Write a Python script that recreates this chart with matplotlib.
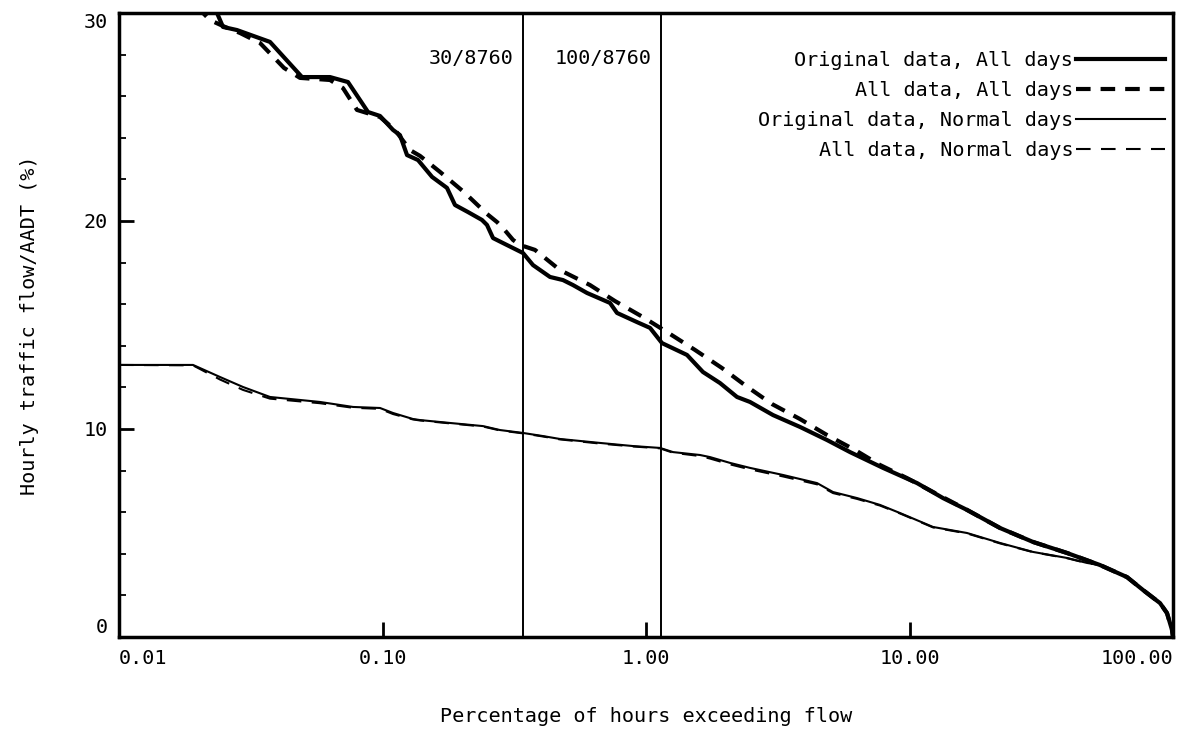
import matplotlib
matplotlib.use("Agg")
import matplotlib.pyplot as plt

plt.rcParams['font.family'] = ['DejaVu Sans Mono']

# exceedance curves: percentage of hours vs hourly flow as % of AADT
orig_all_x = [0.0225, 0.02355, 0.02481, 0.02804, 0.03741, 0.04949, 0.06321, 0.07396, 0.0881,
              0.09784, 0.1096, 0.1165, 0.1239, 0.1364, 0.1542, 0.1757, 0.1884, 0.2111, 0.2385,
              0.2492, 0.2627, 0.2866, 0.3414, 0.3726, 0.4322, 0.4842, 0.5284, 0.5972, 0.7302,
              0.7762, 0.9242, 1.036, 1.150, 1.431, 1.645, 1.909, 2.215, 2.481, 3.034, 3.840,
              4.863, 5.946, 7.933, 10.68, 13.40, 16.53, 22.06, 29.42, 39.60, 52.84, 66.90,
              76.93, 89.28, 94.89, 99.13, 100.0]
orig_all_y = [30.4, 30.0, 29.33, 29.18, 28.61, 26.92, 26.92, 26.68, 25.24,
              25.05, 24.38, 24.13, 23.17, 22.93, 22.12, 21.59, 20.77, 20.43, 20.05,
              19.81, 19.18, 18.94, 18.46, 17.88, 17.31, 17.16, 16.92, 16.54, 16.06,
              15.58, 15.14, 14.86, 14.13, 13.56, 12.74, 12.21, 11.54, 11.30, 10.67, 10.10,
              9.47, 8.89, 8.13, 7.40, 6.68, 6.11, 5.24, 4.57, 4.04, 3.46, 2.88,
              2.26, 1.63, 1.15, 0.34, 0.0]

all_all_x = [0.0200, 0.02084, 0.02215, 0.02525, 0.02878, 0.03428, 0.04228, 0.04863, 0.06321,
             0.07081, 0.08001, 0.09784, 0.1115, 0.1272, 0.1388, 0.1653, 0.2038, 0.2492,
             0.2720, 0.2866, 0.3129, 0.3325, 0.3791, 0.4717, 0.6131, 0.7629, 0.9741, 1.233,
             1.535, 1.943, 2.396, 3.007, 3.840, 4.863, 6.212, 7.727, 9.783, 12.50, 16.53,
             22.06, 29.42, 39.60, 52.84, 66.90, 76.93, 89.28, 94.89, 99.13, 100.0]
all_all_y = [30.4, 30.0, 29.66, 29.33, 29.04, 28.56, 27.36, 26.88, 26.78,
             26.39, 25.34, 25.0, 24.38, 23.41, 23.13, 22.36, 21.39, 20.34,
             19.95, 19.66, 19.09, 18.85, 18.61, 17.64, 16.92, 16.15, 15.38, 14.57,
             13.80, 12.93, 12.07, 11.20, 10.48, 9.71, 8.99, 8.27, 7.64, 6.92, 6.11,
             5.24, 4.57, 4.04, 3.46, 2.88, 2.26, 1.63, 1.15, 0.34, 0.0]

orig_normal_x = [0.01, 0.01909, 0.02417, 0.02955, 0.03741, 0.05792, 0.07727, 0.09784, 0.1096,
                 0.1305, 0.1388, 0.1804, 0.2406, 0.2792, 0.3414, 0.4065, 0.4717, 0.6690,
                 0.8928, 1.130, 1.266, 1.603, 1.749, 2.084, 2.481, 3.311, 4.457, 5.125,
                 6.321, 7.727, 9.203, 12.28, 16.53, 22.06, 29.42, 39.60, 47.17, 52.84,
                 66.90, 76.93, 89.28, 94.89, 99.13, 100.0]
orig_normal_y = [13.08, 13.08, 12.50, 12.02, 11.54, 11.30, 11.06, 11.01, 10.77,
                 10.48, 10.43, 10.29, 10.14, 9.95, 9.81, 9.66, 9.52, 9.33,
                 9.18, 9.09, 8.89, 8.75, 8.65, 8.37, 8.13, 7.79, 7.40, 6.97,
                 6.68, 6.35, 5.96, 5.29, 5.00, 4.52, 4.09, 3.80, 3.56, 3.46,
                 2.88, 2.26, 1.63, 1.15, 0.34, 0.0]

all_normal_x = orig_normal_x
all_normal_y = [13.08, 13.06, 12.38, 11.88, 11.46, 11.24, 11.02, 10.97, 10.72,
                10.46, 10.41, 10.27, 10.12, 9.93, 9.79, 9.64, 9.50, 9.30,
                9.16, 9.07, 8.86, 8.70, 8.58, 8.30, 8.06, 7.72, 7.34, 6.92,
                6.64, 6.32, 5.94, 5.27, 4.98, 4.50, 4.08, 3.79, 3.55, 3.46,
                2.88, 2.26, 1.63, 1.15, 0.34, 0.0]

design_hours = [30, 100]
x_ticks = [0.01, 0.1, 1, 10, 100]
x_tick_labels = ['0.01', '0.10', '1.00', '10.00', '100.00']

fs = 14.5

fig = plt.figure(figsize=(11.86, 7.33), dpi=100)
ax = fig.add_axes([119 / 1186, 1 - 637 / 733, (1173 - 119) / 1186, (637 - 13) / 733])

ax.plot(orig_all_x, orig_all_y, color='black', lw=3.0, label='Original data, All days')
ax.plot(all_all_x, all_all_y, color='black', lw=3.0, dashes=(3.5, 2.4), label='All data, All days')
ax.plot(orig_normal_x, orig_normal_y, color='black', lw=1.5, label='Original data, Normal days')
ax.plot(all_normal_x, all_normal_y, color='black', lw=1.5, dashes=(7, 5), label='All data, Normal days')

for h in design_hours:
    xv = h / 8760 * 100
    ax.axvline(xv, color='black', lw=1.4)
    ax.annotate(f'{h}/8760', xy=(xv, 0.927), xycoords=('data', 'axes fraction'),
                xytext=(-7, 0), textcoords='offset points', ha='right', va='center', fontsize=fs)

ax.set_xscale('log')
ax.set_xlim(0.01, 100)
ax.set_ylim(0, 30)
ax.set_xticks(x_ticks)
ax.set_xticklabels(x_tick_labels)
ax.xaxis.set_minor_locator(matplotlib.ticker.NullLocator())
ax.set_yticks([0, 10, 20, 30])
ax.set_yticks(range(0, 31, 2), minor=True)

ax.tick_params(axis='both', which='major', direction='in', length=11, width=2, labelsize=fs)
ax.tick_params(axis='x', which='major', pad=9)
ax.tick_params(axis='y', which='major', pad=8)
ax.tick_params(axis='y', which='minor', direction='in', length=5, width=1.3)
for s in ax.spines.values():
    s.set_linewidth(2.5)

# keep end labels inside the frame
xl = ax.get_xticklabels()
xl[0].set_horizontalalignment('left')
xl[-1].set_horizontalalignment('right')
yl = ax.get_yticklabels()
yl[0].set_verticalalignment('bottom')
yl[-1].set_verticalalignment('top')

ax.set_xlabel('Percentage of hours exceeding flow', fontsize=fs, labelpad=28)
ax.set_ylabel('Hourly traffic flow/AADT (%)', fontsize=fs, labelpad=32)

ax.legend(loc='upper right', bbox_to_anchor=(1165 / 1186, 1 - 51 / 733), bbox_transform=fig.transFigure,
          frameon=False, markerfirst=False, fontsize=fs, handlelength=4.4, handletextpad=0.15,
          labelspacing=0.55, borderpad=0, borderaxespad=0)

plt.savefig('out.png', dpi=100)
